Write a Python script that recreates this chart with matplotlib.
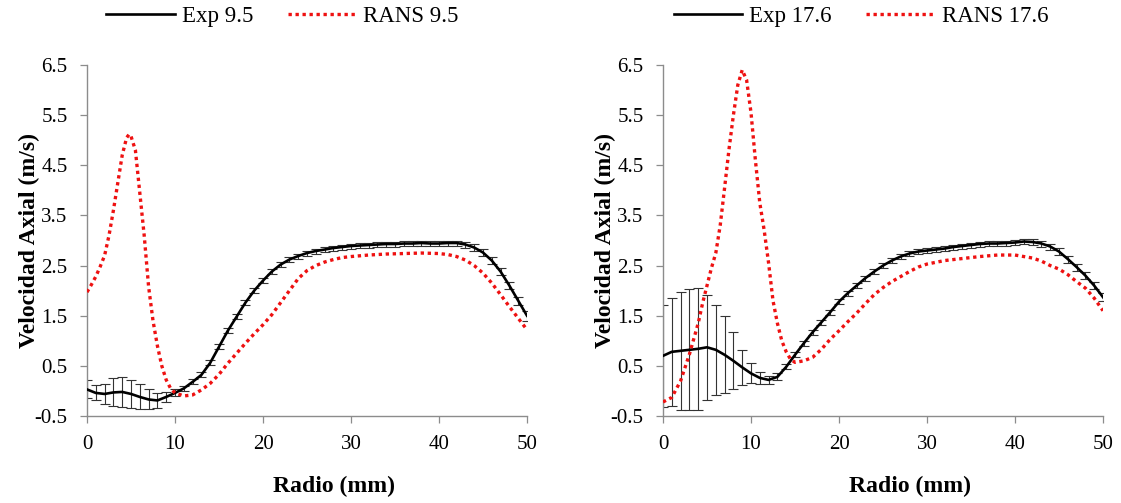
import matplotlib
matplotlib.use("Agg")
import matplotlib.pyplot as plt
from matplotlib.lines import Line2D

plt.rcParams['font.family'] = ['Liberation Serif', 'DejaVu Serif']

# --- datos experimentales (cada 1 mm) ---
radio_exp = list(range(0, 51))

exp_95 = [0.03, -0.04, -0.06, -0.03, -0.02, -0.06, -0.12, -0.17, -0.19, -0.12,
          -0.04, 0.05, 0.18, 0.32, 0.56, 0.88, 1.20, 1.48, 1.76, 2.00,
          2.20, 2.38, 2.52, 2.62, 2.69, 2.75, 2.79, 2.82, 2.85, 2.87,
          2.89, 2.90, 2.91, 2.92, 2.93, 2.93, 2.94, 2.94, 2.95, 2.94,
          2.94, 2.95, 2.95, 2.92, 2.86, 2.76, 2.60, 2.38, 2.10, 1.80,
          1.50]
err_95 = [0.18, 0.15, 0.20, 0.28, 0.30, 0.28, 0.25, 0.20, 0.15, 0.10,
          0.07, 0.05, 0.05, 0.05, 0.05, 0.05, 0.05, 0.05, 0.05, 0.05,
          0.05, 0.05, 0.05, 0.05, 0.05, 0.05, 0.05, 0.05, 0.05, 0.05,
          0.05, 0.05, 0.05, 0.05, 0.05, 0.05, 0.05, 0.05, 0.05, 0.05,
          0.05, 0.05, 0.05, 0.06, 0.07, 0.07, 0.07, 0.07, 0.07, 0.08,
          0.10]

exp_176 = [0.70, 0.78, 0.80, 0.82, 0.84, 0.87, 0.82, 0.72, 0.60, 0.47,
           0.35, 0.26, 0.22, 0.28, 0.48, 0.72, 0.95, 1.17, 1.37, 1.57,
           1.78, 1.95, 2.10, 2.25, 2.38, 2.50, 2.60, 2.68, 2.74, 2.78,
           2.80, 2.82, 2.84, 2.87, 2.89, 2.91, 2.93, 2.94, 2.94, 2.95,
           2.96, 2.98, 2.97, 2.94, 2.88, 2.78, 2.63, 2.47, 2.30, 2.10,
           1.87]
err_176 = [1.02, 1.08, 1.18, 1.21, 1.22, 1.05, 0.90, 0.77, 0.57, 0.35,
           0.20, 0.12, 0.08, 0.07, 0.05, 0.05, 0.05, 0.05, 0.05, 0.05,
           0.05, 0.05, 0.05, 0.05, 0.05, 0.05, 0.05, 0.05, 0.05, 0.05,
           0.05, 0.05, 0.05, 0.05, 0.05, 0.05, 0.05, 0.05, 0.05, 0.05,
           0.05, 0.05, 0.05, 0.06, 0.06, 0.07, 0.07, 0.07, 0.07, 0.07,
           0.08]

# --- resultados RANS ---
radio_rans_95 = [0, 0.5, 1, 1.5, 2, 2.5, 3, 3.5, 4, 4.5, 4.8, 5, 5.5, 6, 6.5,
                 7, 7.5, 8, 8.5, 9, 9.5, 10, 11, 12, 13, 14, 15, 16, 17, 18,
                 19, 20, 21, 22, 23, 24, 25, 26, 27, 28, 29, 30, 32, 34, 36,
                 38, 40, 41, 42, 43, 44, 45, 46, 47, 48, 49, 50]
rans_95 = [1.97, 2.12, 2.28, 2.48, 2.70, 3.10, 3.60, 4.15, 4.70, 5.05, 5.12,
           5.08, 4.80, 3.95, 3.10, 2.08, 1.40, 0.90, 0.50, 0.22, 0.05, -0.04,
           -0.10, -0.08, 0.02, 0.15, 0.33, 0.55, 0.75, 0.95, 1.14, 1.32,
           1.52, 1.76, 2.00, 2.24, 2.40, 2.50, 2.57, 2.62, 2.66, 2.68, 2.71,
           2.73, 2.74, 2.75, 2.74, 2.72, 2.68, 2.61, 2.50, 2.35, 2.15, 1.92,
           1.68, 1.45, 1.22]

radio_rans_176 = [0, 1, 2, 3, 4, 4.5, 5, 5.5, 6, 6.5, 7, 7.5, 8, 8.5, 9, 9.5,
                  10, 10.5, 11, 11.5, 12, 12.5, 13, 13.5, 14, 14.5, 15, 16,
                  17, 18, 19, 20, 21, 22, 23, 24, 25, 26, 27, 28, 29, 30, 32,
                  34, 36, 38, 40, 41, 42, 43, 44, 45, 46, 47, 48, 49, 50]
rans_176 = [-0.22, -0.13, 0.20, 0.73, 1.35, 1.75, 2.10, 2.45, 2.75, 3.30,
            4.05, 4.82, 5.50, 6.10, 6.40, 6.20, 5.55, 4.60, 3.75, 3.20, 2.55,
            1.80, 1.35, 1.00, 0.78, 0.63, 0.57, 0.60, 0.67, 0.83, 1.03, 1.20,
            1.38, 1.55, 1.74, 1.92, 2.06, 2.18, 2.28, 2.38, 2.47, 2.53, 2.60,
            2.64, 2.68, 2.71, 2.71, 2.68, 2.65, 2.59, 2.50, 2.43, 2.32, 2.18,
            2.05, 1.85, 1.60]

y_ticks = [-0.5, 0.5, 1.5, 2.5, 3.5, 4.5, 5.5, 6.5]
x_ticks = [0, 10, 20, 30, 40, 50]

panels = [
    (exp_95, err_95, radio_rans_95, rans_95, 'Exp 9.5', 'RANS 9.5'),
    (exp_176, err_176, radio_rans_176, rans_176, 'Exp 17.6', 'RANS 17.6'),
]

fig = plt.figure(figsize=(11.21, 5.03), dpi=100)
lefts = [87 / 1121, 663 / 1121]
legend_x = [0.252, 0.768]
ax_w = 440 / 1121
ax_b = 1 - 416 / 503
ax_h = 351 / 503
dots = (0, (1, 1.1))

for i, (ye, ee, xr, yr, lab_e, lab_r) in enumerate(panels):
    ax = fig.add_axes([lefts[i], ax_b, ax_w, ax_h])
    ax.errorbar(radio_exp, ye, yerr=ee, fmt='none', ecolor='#333333',
                elinewidth=0.8, capsize=3.8, capthick=0.8, zorder=2)
    ax.plot(radio_exp, ye, color='black', lw=1.9, zorder=3)
    ax.plot(xr, yr, color='#ee1111', lw=2.4, linestyle=dots, zorder=4)

    ax.set_xlim(0, 50)
    ax.set_ylim(-0.5, 6.5)
    ax.set_xticks(x_ticks)
    ax.set_yticks(y_ticks)
    ax.set_yticklabels([f'{v:.1f}' for v in y_ticks])
    for s in ['top', 'right']:
        ax.spines[s].set_visible(False)
    for s in ['left', 'bottom']:
        ax.spines[s].set_color('#8c8c8c')
        ax.spines[s].set_linewidth(1.0)
    ax.tick_params(direction='out', length=5, width=0.9, color='#8c8c8c',
                   labelsize=15, pad=9)
    ax.set_xlabel('Radio (mm)', fontsize=17, fontweight='bold')
    ax.xaxis.set_label_coords(0.561, -0.172)
    ax.set_ylabel('Velocidad Axial (m/s)', fontsize=17, fontweight='bold',
                  labelpad=-4)

    handles = [Line2D([], [], color='black', lw=1.9),
               Line2D([], [], color='#ee1111', lw=2.4, linestyle=dots)]
    fig.legend(handles, [lab_e, lab_r], loc='center',
               bbox_to_anchor=(legend_x[i], 0.968), ncol=2, frameon=False,
               fontsize=16.5, handlelength=3.0, columnspacing=1.5,
               handletextpad=0.3)

fig.savefig('out.png', dpi=100)
